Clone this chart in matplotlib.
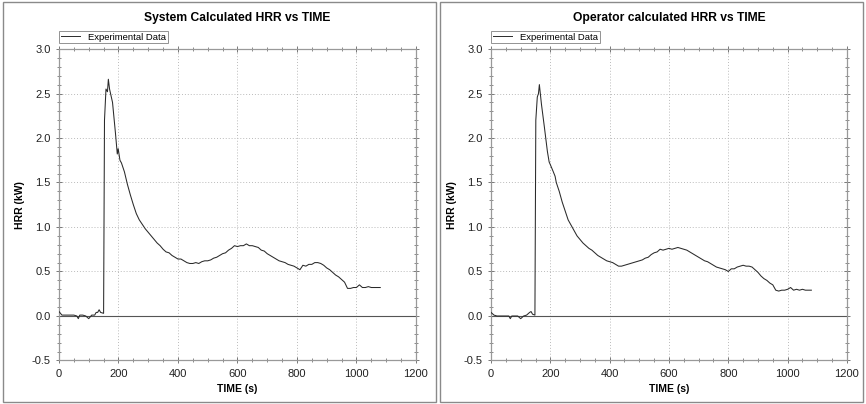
import matplotlib
matplotlib.use("Agg")
import matplotlib.pyplot as plt
from matplotlib.patches import Rectangle
from matplotlib.ticker import MultipleLocator, FormatStrFormatter

plt.rcParams['font.family'] = ['Liberation Sans', 'DejaVu Sans']

# --- data ---
sys_time = [0, 10, 20, 30, 40, 50, 60, 65, 70, 80, 90, 100, 110, 120, 125, 130, 135, 140, 150,
            153, 158, 163, 166, 170, 180, 190, 196, 199, 205, 210, 220, 230, 240, 250, 260,
            270, 280, 290, 300, 310, 320, 330, 340, 350, 360, 370, 380, 390, 400, 410, 420,
            430, 440, 450, 460, 470, 480, 490, 500, 510, 520, 530, 540, 550, 560, 570, 580,
            590, 600, 610, 620, 630, 640, 650, 660, 670, 680, 690, 700, 710, 720, 730, 740,
            750, 760, 770, 780, 790, 800, 810, 820, 830, 840, 850, 860, 870, 880, 890, 900,
            910, 920, 930, 940, 950, 960, 970, 980, 990, 1000, 1010, 1020, 1030, 1040, 1050,
            1060, 1070, 1080]
sys_hrr = [0.05, 0.01, 0.01, 0.01, 0.01, 0.01, 0.00, -0.03, 0.01, 0.01, 0.00, -0.03, 0.01, 0.01,
           0.04, 0.04, 0.07, 0.04, 0.03,
           2.20, 2.55, 2.52, 2.66, 2.55, 2.40, 2.05, 1.82, 1.88, 1.75, 1.72, 1.62, 1.48, 1.36,
           1.25, 1.15, 1.08, 1.03, 0.98, 0.94, 0.90, 0.86, 0.82, 0.79, 0.75, 0.72, 0.71, 0.68,
           0.66, 0.64, 0.64, 0.62, 0.60, 0.59, 0.59, 0.60, 0.59, 0.61, 0.62, 0.62, 0.63, 0.65,
           0.66, 0.68, 0.70, 0.71, 0.74, 0.76, 0.79, 0.78, 0.79, 0.79, 0.81, 0.79, 0.79, 0.78,
           0.77, 0.74, 0.73, 0.70, 0.68, 0.66, 0.64, 0.62, 0.61, 0.60, 0.58, 0.57, 0.56, 0.54,
           0.52, 0.57, 0.56, 0.58, 0.58, 0.60, 0.60, 0.59, 0.57, 0.54, 0.52, 0.49, 0.46, 0.44,
           0.41, 0.38, 0.31, 0.31, 0.32, 0.32, 0.35, 0.32, 0.32, 0.33, 0.32, 0.32, 0.32, 0.32]

op_time = [0, 10, 20, 30, 40, 50, 60, 65, 70, 80, 90, 100, 110, 120, 130, 135, 140, 148,
           151, 156, 160, 163, 170, 180, 190, 196, 200, 210, 216, 220, 230, 240, 250, 260,
           270, 280, 290, 300, 310, 320, 330, 340, 350, 360, 370, 380, 390, 400, 410, 420,
           430, 440, 450, 460, 470, 480, 490, 500, 510, 520, 530, 540, 550, 560, 570, 580,
           590, 600, 610, 620, 630, 640, 650, 660, 670, 680, 690, 700, 710, 720, 730, 740,
           750, 760, 770, 780, 790, 800, 810, 820, 830, 840, 850, 860, 870, 880, 890, 900,
           910, 920, 930, 940, 950, 960, 970, 980, 990, 1000, 1010, 1020, 1030, 1040, 1050,
           1060, 1070, 1080]
op_hrr = [0.04, 0.01, 0.00, 0.00, 0.00, 0.00, 0.00, -0.03, 0.00, 0.00, 0.00, -0.03, 0.00, 0.01,
          0.04, 0.05, 0.02, 0.01,
          2.20, 2.46, 2.50, 2.60, 2.38, 2.12, 1.85, 1.73, 1.70, 1.62, 1.57, 1.50, 1.40, 1.28,
          1.18, 1.08, 1.02, 0.96, 0.90, 0.86, 0.82, 0.79, 0.76, 0.74, 0.71, 0.68, 0.66, 0.64,
          0.62, 0.61, 0.60, 0.58, 0.56, 0.56, 0.57, 0.58, 0.59, 0.60, 0.61, 0.62, 0.63, 0.65,
          0.66, 0.69, 0.71, 0.72, 0.75, 0.74, 0.75, 0.76, 0.75, 0.76, 0.77, 0.76, 0.75, 0.74,
          0.72, 0.70, 0.68, 0.66, 0.64, 0.62, 0.61, 0.59, 0.57, 0.55, 0.54, 0.53, 0.52, 0.50,
          0.53, 0.53, 0.55, 0.56, 0.57, 0.56, 0.56, 0.55, 0.52, 0.49, 0.45, 0.42, 0.40, 0.37,
          0.35, 0.29, 0.28, 0.29, 0.29, 0.30, 0.32, 0.29, 0.30, 0.29, 0.30, 0.29, 0.29, 0.29]

titles = ['System Calculated HRR vs TIME', 'Operator calculated HRR vs TIME']
series_label = 'Experimental Data'


def style_axes(ax):
    ax.set_xlim(0, 1200)
    ax.set_ylim(-0.5, 3.0)
    ax.xaxis.set_major_locator(MultipleLocator(200))
    ax.xaxis.set_minor_locator(MultipleLocator(50))
    ax.yaxis.set_major_locator(MultipleLocator(0.5))
    ax.yaxis.set_minor_locator(MultipleLocator(0.1))
    ax.yaxis.set_major_formatter(FormatStrFormatter('%.1f'))
    ax.tick_params(which='both', direction='inout', top=True, right=True,
                   colors='#777777', labelcolor='#222222', labelsize=8, pad=4)
    ax.tick_params(which='major', length=4, width=0.7)
    ax.tick_params(which='minor', length=3, width=0.6)
    for s in ax.spines.values():
        s.set_color('#999999')
        s.set_linewidth(0.9)
    ax.grid(which='major', linestyle=(0, (1, 2)), color='#bbbbbb', linewidth=0.7)
    ax.axhline(0, color='#555555', linewidth=0.8, zorder=2)
    ax.set_xlabel('TIME (s)', fontsize=7.5, fontweight='bold', labelpad=4)
    ax.set_ylabel('HRR (kW)', fontsize=7.5, fontweight='bold', labelpad=5)


fig = plt.figure(figsize=(8.66, 4.04), dpi=100)

# panel frames
fig.patches.append(Rectangle((0.003, 0.004), 0.501, 0.99, transform=fig.transFigure,
                             fill=False, edgecolor='#8a8a8a', linewidth=1.0))
fig.patches.append(Rectangle((0.508, 0.004), 0.489, 0.99, transform=fig.transFigure,
                             fill=False, edgecolor='#8a8a8a', linewidth=1.0))

axes = [fig.add_axes([0.0681, 0.1077, 0.4122, 0.771]),
        fig.add_axes([0.5670, 0.1077, 0.4110, 0.771])]

for ax, title, t, y in zip(axes, titles, [sys_time, op_time], [sys_hrr, op_hrr]):
    ax.plot(t, y, color='#2a2a2a', linewidth=0.75, label=series_label, zorder=3)
    style_axes(ax)
    ax.set_title(title, fontsize=8.7, fontweight='bold', pad=20)
    leg = ax.legend(loc='lower left', bbox_to_anchor=(0.0, 1.018), borderaxespad=0,
                    fontsize=6.8, frameon=True, fancybox=False, handlelength=2.0,
                    borderpad=0.2, handletextpad=0.9)
    leg.get_frame().set_edgecolor('#777777')
    leg.get_frame().set_linewidth(0.7)
    for h in leg.legend_handles:
        h.set_linewidth(0.7)

fig.savefig('out.png', dpi=100, facecolor='white')
